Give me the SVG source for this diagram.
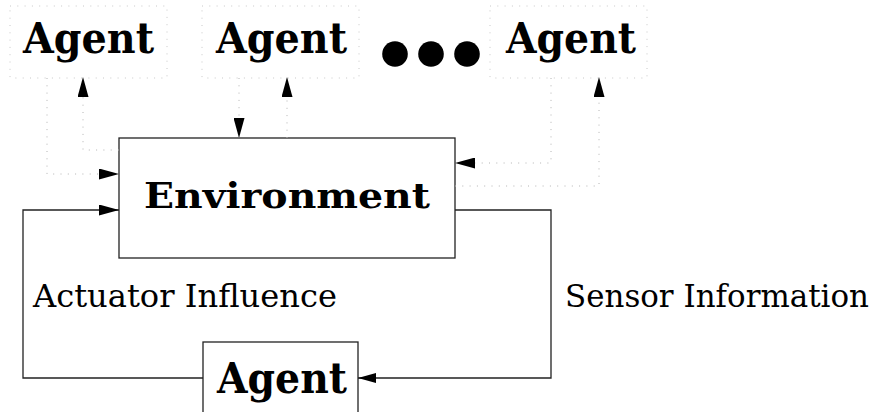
<svg xmlns="http://www.w3.org/2000/svg" width="884" height="412" viewBox="0 0 884 412">
<style>
.bg{fill:#fff}
.box{fill:none;stroke:#222;stroke-width:1.3}
.dbox{fill:none;stroke:#c8c8c8;stroke-width:1;stroke-dasharray:1 6.3}
.dline{fill:none;stroke:#b4b4b4;stroke-width:1;stroke-dasharray:1 6.3}
.line{fill:none;stroke:#222;stroke-width:1.3}
.bold{font-family:"DejaVu Serif",serif;font-weight:bold;fill:#000}
.reg{font-family:"DejaVu Serif","Liberation Serif",serif;fill:#000}
.dot{fill:#000}
</style>
<defs>
<marker id="ah" markerUnits="userSpaceOnUse" markerWidth="20" markerHeight="11" refX="20" refY="5.5" orient="auto" viewBox="0 0 20 11">
<path d="M0,0 L20,5.5 L0,11 z" fill="#000"/>
</marker>
<marker id="ahs" markerUnits="userSpaceOnUse" markerWidth="18" markerHeight="10" refX="18" refY="5" orient="auto" viewBox="0 0 18 10">
<path d="M0,0 L18,5 L0,10 z" fill="#000"/>
</marker>
</defs>
<rect class="bg" x="0" y="0" width="884" height="412"/>

<g id="agent1">
<rect class="dbox" x="10" y="6" width="157" height="72"/>
<text class="bold" x="23" y="53" font-size="42" textLength="131" lengthAdjust="spacingAndGlyphs">Agent</text>
</g>
<g id="agent2">
<rect class="dbox" x="202" y="6" width="157" height="72"/>
<text class="bold" x="216" y="53" font-size="42" textLength="131" lengthAdjust="spacingAndGlyphs">Agent</text>
</g>
<g id="ellipsis">
<circle class="dot" cx="395" cy="54" r="12.8"/>
<circle class="dot" cx="431" cy="54" r="12.8"/>
<circle class="dot" cx="467" cy="54" r="12.8"/>
</g>
<g id="agent3">
<rect class="dbox" x="490" y="6" width="157" height="72"/>
<text class="bold" x="506" y="53" font-size="42" textLength="130" lengthAdjust="spacingAndGlyphs">Agent</text>
</g>
<g id="environment">
<rect class="box" x="119" y="138" width="336" height="120"/>
<text class="bold" x="144" y="208" font-size="36" textLength="286" lengthAdjust="spacingAndGlyphs">Environment</text>
</g>
<g id="agent">
<rect class="box" x="203" y="342" width="155" height="80"/>
<text class="bold" x="217" y="393" font-size="42" textLength="130" lengthAdjust="spacingAndGlyphs">Agent</text>
</g>

<g id="connectors">
<path class="dline" d="M47,78 V174 H119" marker-end="url(#ah)"/>
<path class="dline" d="M119,150 H83 V77" marker-end="url(#ah)"/>
<path class="dline" d="M239,78 V138" marker-end="url(#ah)"/>
<path class="dline" d="M287,138 V77" marker-end="url(#ah)"/>
<path class="dline" d="M551,78 V163 H455" marker-end="url(#ah)"/>
<path class="dline" d="M455,186 H599 V77" marker-end="url(#ah)"/>
<path class="line" d="M455,210 H551 V378 H358" marker-end="url(#ahs)"/>
<path class="line" d="M203,378 H23 V210 H119" marker-end="url(#ah)"/>
<text class="reg" x="33" y="307" font-size="32" textLength="304" lengthAdjust="spacingAndGlyphs">Actuator Influence</text>
<text class="reg" x="565" y="307" font-size="32" textLength="304" lengthAdjust="spacingAndGlyphs">Sensor Information</text>
</g>
</svg>
